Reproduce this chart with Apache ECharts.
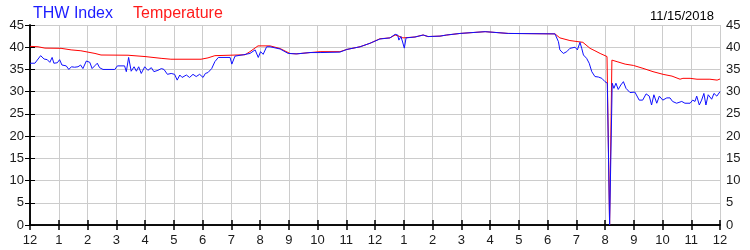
<!DOCTYPE html>
<html><head><meta charset="utf-8">
<script src="https://cdn.jsdelivr.net/npm/echarts@6/dist/echarts.min.js"></script>
<style>html,body{margin:0;padding:0;background:#fff}#c{width:750px;height:250px}</style>
</head><body><div id="c"></div>
<script>
// x tick labels (hours from midnight to midnight)
var hourLabels = ['12','1','2','3','4','5','6','7','8','9','10','11','12','1','2','3','4','5','6','7','8','9','10','11','12'];
var yTicks = [0,5,10,15,20,25,30,35,40,45];
var dateLabel = '11/15/2018';

// Temperature: hour of day, value
var tempHours = [0,0.28,0.52,1.08,1.43,1.77,2.26,2.47,3.41,4.0,4.56,4.90,5.95,6.19,6.43,7.48,7.65,7.93,8.35,8.70,9.04,9.25,10.09,10.78,11.02,11.48,11.83,12.17,12.52,12.70,12.87,12.97,13.39,13.67,13.84,14.26,14.50,14.96,15.83,16.63,18.26,18.43,18.78,19.23,19.48,19.65,19.83,20.07,20.16,20.24,20.42,20.70,20.99,21.32,21.67,22.02,22.33,22.61,22.71,22.96,23.20,23.65,23.90,24.0];
var tempValues = [40.2,40.1,39.8,39.75,39.4,39.2,38.6,38.25,38.2,37.9,37.5,37.3,37.3,37.6,38.1,38.3,39.0,40.3,40.3,39.7,38.6,38.5,39.0,39.0,39.5,40.1,40.9,41.9,42.1,42.75,42.4,42.1,42.3,42.75,42.4,42.5,42.75,43.1,43.5,43.1,43.0,42.1,41.5,41.1,39.75,39.2,38.6,37.9,0,37.1,36.75,36.2,35.9,35.25,34.5,33.9,33.5,32.8,33.0,33.0,32.8,32.8,32.6,32.85];

// THW Index: hour of day, value
var thwHours = [0,0.17,0.37,0.49,0.60,0.69,0.77,0.83,0.95,1.03,1.11,1.26,1.35,1.44,1.55,1.67,1.76,1.84,1.96,2.08,2.16,2.25,2.34,2.42,2.54,2.95,3.04,3.29,3.35,3.43,3.52,3.62,3.70,3.78,3.87,3.99,4.10,4.22,4.31,4.45,4.57,4.66,4.78,4.91,5.03,5.12,5.21,5.29,5.44,5.55,5.67,5.78,5.90,6.02,6.10,6.19,6.32,6.43,6.55,6.96,7.02,7.13,7.42,7.65,7.83,7.94,8.02,8.11,8.23,8.35,8.70,8.98,9.28,9.74,10.09,10.78,11.02,11.48,11.83,12.17,12.52,12.70,12.79,12.83,12.90,12.95,13.02,13.08,13.39,13.68,13.85,14.26,14.49,14.96,15.83,16.64,18.26,18.38,18.43,18.55,18.67,18.78,18.96,19.04,19.13,19.19,19.25,19.36,19.45,19.54,19.59,19.65,19.77,19.89,20.0,20.08,20.16,20.25,20.31,20.38,20.46,20.55,20.64,20.73,20.87,21.04,21.19,21.31,21.43,21.54,21.62,21.70,21.80,21.89,22.01,22.15,22.26,22.35,22.49,22.67,22.78,22.96,23.05,23.13,23.19,23.28,23.36,23.44,23.51,23.59,23.71,23.79,23.89,24.0];
var thwValues = [36.4,36.4,38.1,37.35,37.2,36.6,37.7,36.4,36.5,37.2,36.0,35.8,35.0,35.6,35.5,35.6,36.0,35.2,36.9,36.6,35.2,35.8,36.4,35.4,35.0,35.0,35.8,35.8,34.5,37.7,34.6,35.6,34.6,35.6,34.1,35.6,34.8,35.4,34.5,34.8,35.2,35.0,33.9,34.1,33.9,32.6,33.75,33.2,33.75,33.2,33.9,33.4,33.9,33.2,34.1,34.3,35.2,36.75,37.7,37.7,36.2,38.0,38.3,38.6,39.4,37.7,39.0,38.4,40.1,40.1,39.6,38.6,38.5,38.8,38.8,38.9,39.5,40.1,40.9,41.85,42.1,42.9,42.75,41.6,42.4,41.4,39.8,42.1,42.3,42.75,42.4,42.5,42.75,43.1,43.5,43.1,43.0,41.25,39.4,38.6,39.0,39.75,40.0,39.4,41.1,39.75,38.25,37.5,36.4,34.5,34.7,33.4,33.3,33.0,32.25,31.9,0,31.9,30.75,31.9,30.5,31.5,32.25,30.75,29.8,29.9,28.1,28.1,29.5,29.0,27.0,29.3,27.4,29.0,28.1,28.6,28.6,27.8,27.4,27.8,27.4,27.4,28.1,27.8,29.0,27.0,28.1,29.6,27.0,29.3,28.3,29.6,29.0,30.0];

function pairs(xs, ys){ return xs.map(function(x,i){ return [x, ys[i]]; }); }

var FONT = 'Liberation Sans, Arial, sans-serif';
var chart = echarts.init(document.getElementById('c'), null, {renderer:'canvas'});
var axisLine = {show:true, lineStyle:{color:'#000', width:1.5}};
var xBase = {
  type:'value', min:0, max:24, interval:1,
  axisLine: axisLine,
  axisTick:{show:true, inside:true, length:5, lineStyle:{color:'#000', width:1.5}},
  splitLine:{show:false}
};
var yBase = {
  type:'value', min:0, max:45, interval:5,
  axisLine: axisLine,
  axisTick:{show:true, inside:true, length:5, lineStyle:{color:'#000', width:1}},
  axisLabel:{color:'#1a1a1a', fontFamily:FONT, fontSize:13, margin:6},
  splitLine:{show:false}
};
chart.setOption({
  animation:false,
  backgroundColor:'#fff',
  title:{text:dateLabel, right:31, top:5, textStyle:{fontFamily:FONT, fontSize:13, fontWeight:'normal', color:'#000'}},
  legend:{
    left:23, top:1, icon:'none', itemWidth:0, itemGap:15,
    data:[
      {name:'THW Index', textStyle:{color:'#1c1cff'}},
      {name:'Temperature', textStyle:{color:'#ff1a1a'}}
    ],
    textStyle:{fontFamily:FONT, fontSize:16}
  },
  grid:{left:30, right:30, top:25, bottom:25, containLabel:false},
  xAxis:[
    Object.assign({}, xBase, {position:'bottom',
      axisLabel:{color:'#1a1a1a', fontFamily:FONT, fontSize:13, margin:9,
        formatter:function(v){ return hourLabels[Math.round(v)]; }},
      splitLine:{show:true, lineStyle:{color:'#cccccc', width:1}}}),
    Object.assign({}, xBase, {position:'top', axisLabel:{show:false}})
  ],
  yAxis:[
    Object.assign({}, yBase, {position:'left', splitLine:{show:true, lineStyle:{color:'#cccccc', width:1}}}),
    Object.assign({}, yBase, {position:'right'})
  ],
  series:[
    {name:'Temperature', type:'line', xAxisIndex:0, yAxisIndex:0, data:pairs(tempHours,tempValues),
      showSymbol:false, lineStyle:{color:'#ff0000', width:1}, itemStyle:{color:'#ff0000'}},
    {name:'THW Index', type:'line', xAxisIndex:0, yAxisIndex:0, data:pairs(thwHours,thwValues),
      showSymbol:false, lineStyle:{color:'#1010ff', width:1}, itemStyle:{color:'#1010ff'}}
  ]
});
</script></body></html>
